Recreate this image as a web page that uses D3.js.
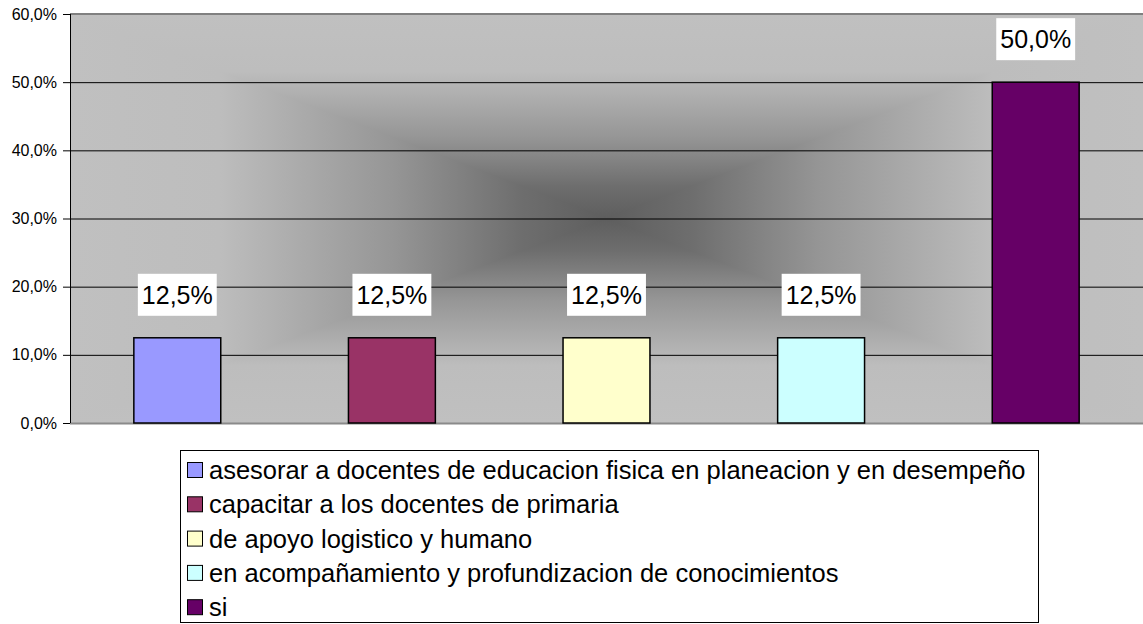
<!DOCTYPE html>
<html>
<head>
<meta charset="utf-8">
<script src="https://cdn.jsdelivr.net/npm/d3@7"></script>
<style>
  body { margin: 0; background: #fff; }
  text { font-family: "Liberation Sans", Arial, sans-serif; fill: #000; }
</style>
</head>
<body>
<div id="chart"></div>
<script>
const categories = [
    "asesorar a docentes de educacion fisica en planeacion y en desempeño",
    "capacitar a los docentes de primaria",
    "de apoyo logistico y humano",
    "en acompañamiento y profundizacion de conocimientos",
    "si"
];
const values = [0.125, 0.125, 0.125, 0.125, 0.5];
const colors = ["#9999ff", "#993366", "#ffffcc", "#ccffff", "#660066"];
const yTicks = [0, 0.1, 0.2, 0.3, 0.4, 0.5, 0.6];

const W = 1143, H = 624;
const margin = {top: 14, right: 0, bottom: 201, left: 70},
    width = W - margin.left - margin.right,
    height = H - margin.top - margin.bottom;

const fmt = d => d3.format(".1f")(d * 100).replace(".", ",") + "%";

const root = d3.select("#chart")
    .append("svg")
    .attr("width", W)
    .attr("height", H);

const defs = root.append("defs");

// rectangular "path" gradient: light at the edges, dark in the middle
function addGrad(id, x1, y1, x2, y2) {
    const g = defs.append("linearGradient")
        .attr("id", id)
        .attr("gradientUnits", "userSpaceOnUse")
        .attr("x1", x1).attr("y1", y1).attr("x2", x2).attr("y2", y2);
    [[0, "#c0c0c0"], [0.14, "#bdbdbd"], [0.3, "#969696"], [0.42, "#6e6e6e"], [0.5, "#5e5e5e"],
     [0.58, "#6e6e6e"], [0.7, "#969696"], [0.86, "#bdbdbd"], [1, "#c0c0c0"]]
        .forEach(s => g.append("stop").attr("offset", s[0]).attr("stop-color", s[1]));
}
addGrad("gh", 0, 0, width, 0);
addGrad("gv", 0, 0, 0, height);

const svg = root.append("g")
    .attr("transform", `translate(${margin.left}, ${margin.top})`);

svg.append("rect")
    .attr("width", width)
    .attr("height", height)
    .attr("fill", "url(#gh)");

const cx = width / 2, cy = height / 2;
svg.append("path")
    .attr("d", `M0,0L${width},0L${cx},${cy}Z`)
    .attr("fill", "url(#gv)");
svg.append("path")
    .attr("d", `M0,${height}L${width},${height}L${cx},${cy}Z`)
    .attr("fill", "url(#gv)");

const x = d3.scaleBand()
    .domain(categories)
    .range([0, width])
    .paddingInner(0.595)
    .paddingOuter(0.2975);

const y = d3.scaleLinear()
    .domain([0, 0.6])
    .range([height, 0]);

// gridlines
svg.append("g")
    .attr("class", "grid")
    .call(d3.axisLeft(y).tickValues(yTicks.slice(1, -1)).tickSize(-width).tickFormat(""))
    .call(g => g.select(".domain").remove())
    .call(g => g.selectAll("line").attr("stroke", "#000").attr("stroke-width", 1));

// plot border top / bottom
svg.append("line")
    .attr("x1", 0).attr("x2", width)
    .attr("y1", y(0.6)).attr("y2", y(0.6))
    .attr("stroke", "#808080").attr("stroke-width", 2);
svg.append("line")
    .attr("x1", 0).attr("x2", width)
    .attr("y1", y(0) + 0.5).attr("y2", y(0) + 0.5)
    .attr("stroke", "#8a8a8a").attr("stroke-width", 2);

// y axis
svg.append("g")
    .attr("class", "axes")
    .call(d3.axisLeft(y).tickValues(yTicks).tickSize(7).tickPadding(6).tickFormat(fmt))
    .call(g => g.select(".domain").attr("stroke", "#000").attr("d", `M0.5,0V${height}`))
    .call(g => g.selectAll("line").attr("stroke", "#000"))
    .call(g => g.selectAll("text").style("font-size", "16px").attr("fill", "#000"));

// bars
svg.selectAll(".bar")
    .data(values)
    .enter()
    .append("rect")
    .attr("class", "bar")
    .attr("x", (d, i) => x(categories[i]))
    .attr("y", d => y(d))
    .attr("width", x.bandwidth())
    .attr("height", d => height - y(d))
    .attr("fill", (d, i) => colors[i])
    .attr("stroke", "#000")
    .attr("stroke-width", 1.5);

// value labels in white boxes
const labels = svg.selectAll(".lbl")
    .data(values)
    .enter()
    .append("g")
    .attr("class", "lbl");

labels.append("rect").attr("fill", "#fff");
labels.append("text")
    .attr("text-anchor", "middle")
    .style("font-size", "25px")
    .attr("x", (d, i) => x(categories[i]) + x.bandwidth() / 2)
    .attr("y", d => y(d) - 22 - 12)
    .text(fmt);

labels.each(function () {
    const g = d3.select(this);
    const bb = g.select("text").node().getBBox();
    g.select("rect")
        .attr("x", bb.x - 4)
        .attr("y", bb.y - 7)
        .attr("width", bb.width + 8)
        .attr("height", 42);
});

// legend
const legend = root.append("g")
    .attr("transform", "translate(180, 450)");

legend.append("rect")
    .attr("x", 0.5).attr("y", 0.5)
    .attr("width", 858).attr("height", 172)
    .attr("fill", "#fff")
    .attr("stroke", "#000");

const rows = legend.selectAll(".row")
    .data(categories)
    .enter()
    .append("g")
    .attr("class", "row")
    .attr("transform", (d, i) => `translate(0, ${20 + i * 34.3})`);

rows.append("rect")
    .attr("x", 7.5).attr("y", -7.5)
    .attr("width", 15).attr("height", 15)
    .attr("fill", (d, i) => colors[i])
    .attr("stroke", "#000");

rows.append("text")
    .attr("x", 29)
    .attr("dy", "0.35em")
    .style("font-size", "25.5px")
    .text(d => d);
</script>
</body>
</html>
